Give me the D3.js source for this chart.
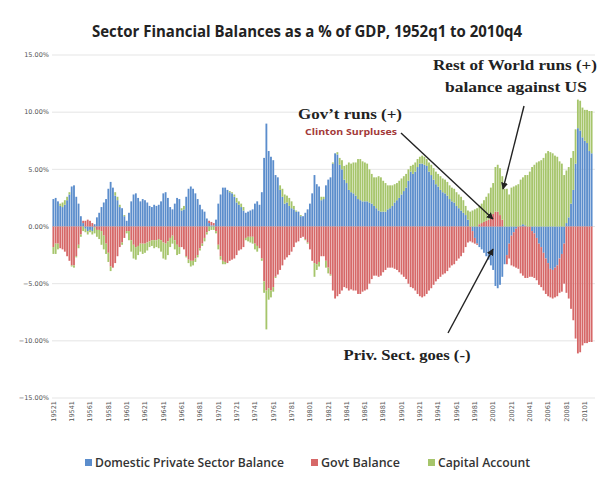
<!DOCTYPE html>
<html>
<head>
<meta charset="utf-8">
<script src="https://cdn.jsdelivr.net/npm/d3@7"></script>
<style>
  body { margin: 0; background: #fff; }
  svg { display: block; }
</style>
</head>
<body>
<div id="chart"></div>
<script>
// quarterly sector balances, % of GDP, 1952q1 .. 2010q4 (one row per year)
const privateBalance = [
  2.4, 2.5, 2.2, 1.8,   1.7, 1.9, 2.3, 2.8,   3.5, 3.6, 2.6, 2.0,   0.9, 0.3, -0.2, -0.4,
  -0.3, -0.4, 0.2, 0.8,  1.2, 1.7, 2.1, 2.4,   3.3, 3.9, 3.4, 2.7,   2.3, 1.7, 1.6, 0.9,
  0.5, 1.2, 2.2, 2.8,   2.9, 2.5, 2.2, 2.4,   2.3, 2.1, 1.8, 1.7,   1.9, 1.8, 1.9, 2.2,
  2.9, 3.0, 2.5, 1.7,   1.5, 2.0, 2.5, 2.4,   1.4, 1.5, 2.6, 3.3,   3.5, 3.3, 2.9, 2.4,
  1.9, 1.5, 1.3, 0.7,   0.3, 0.1, 0.1, 0.6,   2.0, 2.8, 3.4, 3.4,   3.2, 3.0, 2.9, 2.6,
  2.1, 1.9, 1.7, 1.4,   1.2, 1.3, 1.4, 1.5,   2.0, 2.2, 1.9, 3.0,   6.0, 9.0, 6.6, 6.1,
  5.8, 4.5, 4.3, 3.2,   2.6, 2.0, 2.1, 1.8,   1.6, 1.5, 1.3, 1.3,   0.9, 0.9, 1.2, 1.5,
  2.0, 2.9, 4.5, 3.7,   3.5, 2.3, 2.4, 3.6,   4.1, 4.3, 5.5, 6.4,   6.3, 5.4, 5.0, 4.1,
  3.8, 3.2, 3.0, 2.9,   2.7, 2.4, 2.3, 2.2,   2.2, 2.2, 2.1, 2.0,   1.8, 1.6, 1.4, 1.3,
  1.3, 1.3, 1.5, 1.6,   1.8, 2.1, 2.3, 2.5,   2.8, 3.1, 3.4, 4.0,   4.8, 4.6, 4.8, 5.2,
  5.5, 5.5, 5.4, 5.3,   4.8, 4.5, 4.1, 3.7,   3.5, 3.2, 3.0, 2.9,   2.7, 2.4, 2.2, 2.1,
  1.8, 1.6, 1.4, 1.2,   1.0, 0.6, 0.0, -0.4,  -1.0, -1.5, -1.8, -2.0, -2.3, -2.6, -2.9, -3.4,
  -3.8, -5.2, -5.4, -5.1, -4.4, -3.3, -2.5, -1.5, -0.8, -0.5, -0.2, 0.0, 0.1, 0.2, 0.1, 0.0,
  0.0, -0.4, -0.6, -1.0, -1.5, -1.8, -2.3, -2.8, -3.2, -3.7, -3.8, -3.6, -3.4, -2.8, -2.4, -1.5,
  0.3, 0.8, 2.0, 3.2,   5.5, 8.6, 8.4, 7.8,   7.5, 7.3, 6.6, 6.4
];
const govtBalance = [
  -1.8, -1.5, -1.5, -1.9, -2.0, -2.2, -2.6, -3.0, -3.4, -3.4, -2.6, -1.6, -0.7, 0.2, 0.5, 0.6,
  0.5, 0.3, -0.1, -0.3,  -0.3, -0.4, -0.8, -1.5, -2.3, -3.5, -3.6, -3.2, -2.6, -1.8, -1.4, -1.0,
  -0.4, -0.4, -1.2, -1.6, -1.8, -1.7, -1.5, -1.5, -1.5, -1.4, -1.3, -1.2, -1.2, -1.2, -1.1, -1.2,
  -1.4, -1.5, -1.3, -1.0, -0.8, -1.2, -1.6, -1.8, -1.8, -2.0, -2.6, -2.9, -3.0, -3.0, -2.8, -2.5,
  -1.9, -1.5, -1.0, -0.5, 0.2, 0.3, 0.2, -0.4,  -1.6, -2.6, -3.0, -3.1, -3.2, -3.0, -2.9, -2.8,
  -2.5, -2.1, -2.0, -1.8, -1.0, -0.9, -0.9, -0.9, -1.5, -1.7, -1.9, -2.8, -4.8, -5.6, -5.4, -5.6,
  -5.3, -4.4, -4.2, -3.8, -3.4, -2.9, -2.7, -2.5, -2.2, -1.8, -1.4, -1.3, -1.0, -0.9, -1.1, -1.4,
  -2.0, -3.0, -3.2, -3.3, -3.1, -2.6, -2.6, -3.0, -3.6, -4.2, -5.6, -6.3, -6.1, -5.9, -5.6, -5.3,
  -5.4, -5.6, -5.5, -5.6, -5.6, -5.9, -5.9, -5.7, -5.6, -5.5, -5.0, -4.6, -4.3, -4.3, -4.4, -4.3,
  -4.0, -3.8, -3.6, -3.6, -3.6, -3.7, -3.8, -4.0, -4.2, -4.4, -4.6, -5.0, -5.3, -5.4, -5.6, -5.9,
  -6.1, -6.2, -6.1, -5.9, -5.6, -5.4, -5.1, -4.8, -4.6, -4.4, -4.2, -4.1, -3.9, -3.6, -3.4, -3.3,
  -3.0, -2.8, -2.6, -2.3, -1.8, -1.4, -1.3, -1.0, -0.5, -0.1, 0.2, 0.3,  0.4, 0.5, 0.6, 0.9,
  1.1, 1.3, 1.3, 1.0,   0.6, 0.0, -0.8, -1.3, -2.6, -3.0, -3.4, -3.7, -4.1, -4.3, -4.5, -4.5,
  -4.4, -4.0, -3.9, -3.7, -3.6, -3.5, -3.3, -3.1, -2.9, -2.5, -2.5, -2.6, -2.7, -3.0, -3.3, -3.5,
  -5.8, -6.3, -7.2, -8.2, -9.8, -11.1, -11.0, -10.4, -10.2, -10.2, -10.1, -10.1
];
const capitalAccount = [
  -0.6, -0.9, -0.5, 0.2,  0.4, 0.4, 0.3, 0.2,   -0.1, -0.2, -0.1, -0.3, -0.2, -0.4, -0.3, -0.3,
  -0.2, -0.3, -0.5, -0.6, -0.8, -1.2, -1.2, -0.9, -0.8, -0.4, 0.0, 0.3,   0.3, 0.2, -0.2, 0.1,
  -0.2, -0.8, -1.0, -1.2, -1.1, -0.8, -0.7, -0.9, -0.8, -0.7, -0.5, -0.5, -0.7, -0.6, -0.8, -1.0,
  -1.4, -1.4, -1.2, -0.8, -0.7, -0.8, -0.9, -0.6, 0.2, 0.3, -0.1, -0.3,  -0.5, -0.4, -0.3, -0.2,
  -0.2, -0.2, -0.3, -0.2, -0.4, -0.3, -0.3, -0.2, -0.4, -0.3, -0.3, -0.2, 0.0, 0.1, 0.1, 0.2,
  0.4, 0.3, 0.3, 0.3,   -0.2, -0.4, -0.5, -0.6, -0.5, -0.5, 0.0, -0.2,  -1.0, -3.4, -1.0, -0.6,
  -0.4, -0.1, 0.0, 0.4,  0.7, 0.8, 0.6, 0.7,   0.6, 0.3, 0.1, 0.0,   0.1, 0.0, -0.1, -0.1,
  0.0, 0.0, -1.2, -0.5,  -0.4, 0.3, 0.2, -0.6,  -0.5, -0.1, 0.1, 0.0,  0.2, 0.6, 0.8, 1.2,
  1.6, 2.4, 2.5, 2.7,   2.9, 3.5, 3.6, 3.5,   3.4, 3.3, 2.9, 2.6,   2.5, 2.7, 3.0, 3.0,
  2.7, 2.5, 2.1, 2.0,   1.8, 1.6, 1.5, 1.5,   1.4, 1.3, 1.2, 1.0,   0.5, 0.8, 0.8, 0.7,
  0.6, 0.7, 0.7, 0.6,   0.8, 0.9, 1.0, 1.1,   1.1, 1.2, 1.2, 1.2,   1.2, 1.2, 1.2, 1.2,
  1.2, 1.2, 1.2, 1.1,   0.8, 0.8, 1.3, 1.4,   1.5, 1.6, 1.6, 1.7,   1.9, 2.1, 2.3, 2.5,
  2.7, 3.9, 4.1, 4.1,   3.8, 3.3, 3.3, 2.8,   3.4, 3.5, 3.6, 3.7,   4.0, 4.1, 4.4, 4.5,
  4.8, 5.2, 5.4, 5.6,   5.7, 5.8, 6.0, 6.4,   6.6, 6.5, 6.4, 6.2,   6.1, 5.7, 5.5, 4.5,
  4.6, 4.4, 4.0, 3.4,   3.0, 2.5, 2.6, 2.6,   2.7, 2.9, 3.5, 3.7
];
const firstYear = 1952;
const yTicks = [15, 10, 5, 0, -5, -10, -15];
const seriesKeys = ['priv', 'govt', 'cap'];
const seriesNames = ['Domestic Private Sector Balance', 'Govt Balance', 'Capital Account'];
const seriesColors = ['#5b8dcc', '#d66868', '#a6c56b'];

const width = 600, height = 483;
const svg = d3.select('#chart').append('svg')
    .attr('width', width)
    .attr('height', height);

const rows = privateBalance.map((v, i) => ({
  q: i, priv: v, govt: govtBalance[i], cap: capitalAccount[i]
}));

const x = d3.scaleBand()
    .domain(rows.map(d => d.q))
    .range([52, 593])
    .padding(0.2);
const y = d3.scaleLinear()
    .domain([-15, 15])
    .range([398, 55]);

// title
svg.append('text')
    .attr('x', 92)
    .attr('y', 37)
    .attr('textLength', 430)
    .attr('lengthAdjust', 'spacingAndGlyphs')
    .style('font', 'bold 16px "Open Sans", sans-serif')
    .style('fill', '#222')
    .text('Sector Financial Balances as a % of GDP, 1952q1 to 2010q4');

// gridlines + y labels
svg.append('g').selectAll('line')
    .data(yTicks)
    .join('line')
    .attr('x1', 52).attr('x2', 595)
    .attr('y1', d => y(d)).attr('y2', d => y(d))
    .attr('stroke', '#dedede')
    .attr('stroke-width', 0.8);
svg.append('g').selectAll('text')
    .data(yTicks)
    .join('text')
    .attr('x', 49)
    .attr('y', d => y(d))
    .attr('dy', '0.35em')
    .attr('text-anchor', 'end')
    .style('font', '6.5px "DejaVu Sans", sans-serif')
    .style('fill', '#555')
    .text(d => d3.format('.2f')(d) + '%');

// stacked bars
const stacked = d3.stack()
    .keys(seriesKeys)
    .offset(d3.stackOffsetDiverging)(rows);
svg.append('g').selectAll('g')
    .data(stacked)
    .join('g')
    .attr('fill', (d, i) => seriesColors[i])
    .selectAll('rect')
    .data(d => d)
    .join('rect')
    .attr('x', d => x(d.data.q))
    .attr('width', x.bandwidth())
    .attr('y', d => y(Math.max(d[0], d[1])))
    .attr('height', d => Math.abs(y(d[0]) - y(d[1])));

// x labels, every 2 years (q1)
const xLabels = rows.filter(d => d.q % 8 === 0);
svg.append('g').selectAll('text')
    .data(xLabels)
    .join('text')
    .attr('transform', d => `translate(${x(d.q) + x.bandwidth() / 2},401) rotate(-90)`)
    .attr('dy', '0.35em')
    .attr('text-anchor', 'end')
    .style('font', '6.5px "DejaVu Sans", sans-serif')
    .style('fill', '#555')
    .text(d => `${firstYear + d.q / 4}1`);

// legend
const legendX = [85, 311, 428];
const legendW = [189, 79, 92];
const legend = svg.append('g').selectAll('g')
    .data(seriesNames)
    .join('g')
    .attr('transform', (d, i) => `translate(${legendX[i]},459)`);
legend.append('rect')
    .attr('width', 7).attr('height', 7)
    .attr('fill', (d, i) => seriesColors[i]);
legend.append('text')
    .attr('x', 10)
    .attr('y', 7.5)
    .attr('textLength', (d, i) => legendW[i])
    .attr('lengthAdjust', 'spacingAndGlyphs')
    .style('font', '600 12.5px "Open Sans", sans-serif')
    .style('fill', '#333')
    .text(d => d);

// annotations
const defs = svg.append('defs');
defs.append('marker')
    .attr('id', 'arrow')
    .attr('viewBox', '0 0 10 10')
    .attr('refX', 9).attr('refY', 5)
    .attr('markerWidth', 5).attr('markerHeight', 5)
    .attr('orient', 'auto')
  .append('path')
    .attr('d', 'M0,0L10,5L0,10z')
    .attr('fill', '#222');

const serif = 'bold 14px "Liberation Serif", "DejaVu Serif", serif';
function note(txt, x0, y0, w, font, color) {
  svg.append('text')
      .attr('x', x0).attr('y', y0)
      .attr('text-anchor', 'middle')
      .attr('textLength', w)
      .attr('lengthAdjust', 'spacingAndGlyphs')
      .style('font', font)
      .style('fill', color || '#222')
      .text(txt);
}
note('Rest of World runs (+)', 515, 70, 164, serif);
note('balance against US', 516, 92, 142, serif);
note('Gov\u2019t runs (+)', 350, 119, 104, serif);
note('Clinton Surpluses', 351, 135, 92, 'bold 8.5px "Open Sans", sans-serif', '#a33a3a');
note('Priv. Sect. goes (-)', 407, 360, 127, serif);

const arrows = [
  [401, 133, 493, 219],
  [524, 106, 503, 189],
  [448, 333, 493, 249]
];
svg.append('g').selectAll('line')
    .data(arrows)
    .join('line')
    .attr('x1', d => d[0]).attr('y1', d => d[1])
    .attr('x2', d => d[2]).attr('y2', d => d[3])
    .attr('stroke', '#222')
    .attr('stroke-width', 1.4)
    .attr('marker-end', 'url(#arrow)');
</script>
</body>
</html>
